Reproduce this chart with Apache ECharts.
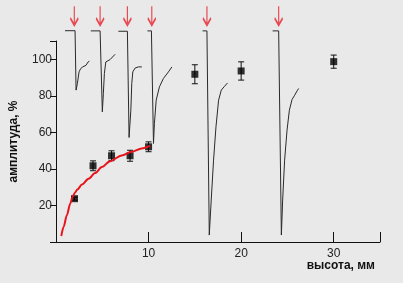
<!DOCTYPE html>
<html><head><meta charset="utf-8">
<script src="https://cdn.jsdelivr.net/npm/echarts@6/dist/echarts.min.js"></script>
<style>html,body{margin:0;padding:0;background:#e9e9e9}#c{width:403px;height:283px}</style>
</head><body><div id="c"></div>
<script>
// measured points (height mm, amplitude %)
var pointX = [2, 4, 6, 8, 10, 15, 20, 30];
var pointY = [23.7, 41.7, 47.2, 47.2, 52.1, 91.8, 93.6, 98.7];
var pointErr = [0.8, 2.7, 2.7, 3.0, 2.7, 5.2, 5.0, 3.6];
// red fit curve
var fitCurve = [[0.57,3.3],[0.83,8.4],[1.18,14.8],[1.54,21.1],[1.80,24.8],[2.05,27.0],[2.30,28.7],[2.80,31.4],[3.52,34.6],[4.23,37.7],[4.95,41.0],[5.84,44.2],[7.10,47.4],[8.17,49.4],[9.25,51.2],[10.14,52.6]];
// inset signal traces
var trace1 = [[1.18,115.6],[2.26,115.6],[2.37,83.1],[2.51,86.7],[2.69,93.1],[2.87,94.9],[3.09,95.8],[3.26,94.9],[3.44,96.7],[3.66,98.5],[3.80,98.9]];
var trace2 = [[3.95,115.5],[4.95,115.5],[5.19,71.2],[5.30,81.3],[5.41,92.2],[5.56,98.5],[5.73,99.5],[6.02,99.8],[6.56,102.7]];
var trace3 = [[6.91,115.3],[7.88,115.3],[8.06,57.2],[8.25,72.1],[8.35,86.7],[8.46,93.1],[8.71,95.2],[9.06,95.8],[9.43,95.8]];
var trace4 = [[10.03,115.5],[10.46,115.5],[10.68,53.9],[10.78,64.9],[10.97,77.6],[11.32,84.9],[11.75,89.5],[12.29,93.1],[12.66,95.8]];
var trace5 = [[15.95,115.5],[16.42,115.5],[16.67,3.8],[16.88,23.0],[17.13,44.8],[17.39,63.0],[17.67,77.6],[17.96,83.1],[18.31,85.2],[18.63,87.0]];
var trace6 = [[23.47,115.5],[24.12,115.5],[24.41,3.8],[24.55,23.0],[24.76,44.8],[25.02,61.2],[25.27,72.1],[25.56,78.0],[25.84,80.3],[26.10,82.7],[26.27,84.0]];
var arrowX = [2.18, 4.95, 7.88, 10.5, 16.42, 24.12];
var arrowY = 123.8;
var xTicks = [10, 20, 30];
var yTicks = [20, 40, 60, 80, 100];

var chart = echarts.init(document.getElementById('c'), null, {renderer: 'canvas'});
var traces = [trace1, trace2, trace3, trace4, trace5, trace6];
var series = [];
traces.forEach(function (t) {
  series.push({type: 'line', xAxisIndex: 1, yAxisIndex: 1, data: t, showSymbol: false, silent: true,
    lineStyle: {color: '#2a2a2a', width: 1}, animation: false});
});
series.push({type: 'scatter', xAxisIndex: 1, yAxisIndex: 1,
  data: arrowX.map(function (x) { return [x, arrowY]; }),
  symbol: 'path://M4,0L4,19M0.6,12L4,19L7.4,12', symbolSize: [8, 19],
  itemStyle: {color: 'rgba(0,0,0,0)', borderColor: '#e8202a', borderWidth: 1.8}, animation: false});
series.push({type: 'line', data: fitCurve, smooth: 0.3, smoothMonotone: 'x', showSymbol: false,
  lineStyle: {color: '#e8141c', width: 2}, animation: false});
series.push({type: 'custom', data: pointX.map(function (x, i) { return [x, pointY[i] - pointErr[i], pointY[i] + pointErr[i]]; }),
  renderItem: function (params, api) {
    var lo = api.coord([api.value(0), api.value(1)]);
    var hi = api.coord([api.value(0), api.value(2)]);
    var s = {stroke: '#111', lineWidth: 1};
    return {type: 'group', children: [
      {type: 'line', shape: {x1: lo[0], y1: lo[1], x2: hi[0], y2: hi[1]}, style: s},
      {type: 'line', shape: {x1: lo[0] - 3, y1: lo[1], x2: lo[0] + 3, y2: lo[1]}, style: s},
      {type: 'line', shape: {x1: hi[0] - 3, y1: hi[1], x2: hi[0] + 3, y2: hi[1]}, style: s}
    ]};
  }, animation: false});
series.push({type: 'scatter', data: pointX.map(function (x, i) { return [x, pointY[i]]; }),
  symbol: 'rect', symbolSize: 7, itemStyle: {color: '#000'}, animation: false});

chart.setOption({
  backgroundColor: '#e9e9e9',
  animation: false,
  grid: [
    {left: 54, right: 23, top: 41, bottom: 41},
    {left: 54, right: 23, top: 0, bottom: 41}
  ],
  xAxis: [
    {type: 'value', gridIndex: 0, min: 0, max: 35, interval: 10,
      axisLine: {lineStyle: {color: '#111', width: 1}},
      axisTick: {inside: true, length: 10, lineStyle: {color: '#111'}},
      splitLine: {show: false},
      axisLabel: {color: '#222', fontSize: 12, fontFamily: 'Liberation Sans, Arial', margin: 6,
        formatter: function (v) { return xTicks.indexOf(v) >= 0 ? String(v) : ''; }},
      name: 'высота, мм', nameLocation: 'end', nameGap: -5,
      nameTextStyle: {color: '#111', fontWeight: 'bold', fontSize: 12, fontFamily: 'Liberation Sans, Arial',
        align: 'right', verticalAlign: 'top', padding: [18, 0, 0, 0]}},
    {type: 'value', gridIndex: 1, min: 0, max: 35, show: false}
  ],
  yAxis: [
    {type: 'value', gridIndex: 0, min: 0, max: 110, interval: 20,
      axisLine: {show: true, lineStyle: {color: '#111', width: 1}},
      axisTick: {show: true, length: 6, lineStyle: {color: '#111'}},
      splitLine: {show: false},
      axisLabel: {color: '#222', fontSize: 12, fontFamily: 'Liberation Sans, Arial', margin: 4,
        formatter: function (v) { return yTicks.indexOf(v) >= 0 ? String(v) : ''; }},
      name: 'амплитуда, %', nameLocation: 'middle', nameGap: 36, nameRotate: 90,
      nameTextStyle: {color: '#111', fontWeight: 'bold', fontSize: 12, fontFamily: 'Liberation Sans, Arial'}},
    {type: 'value', gridIndex: 1, min: 0, max: 132.4, show: false}
  ],
  series: series
});
</script></body></html>
